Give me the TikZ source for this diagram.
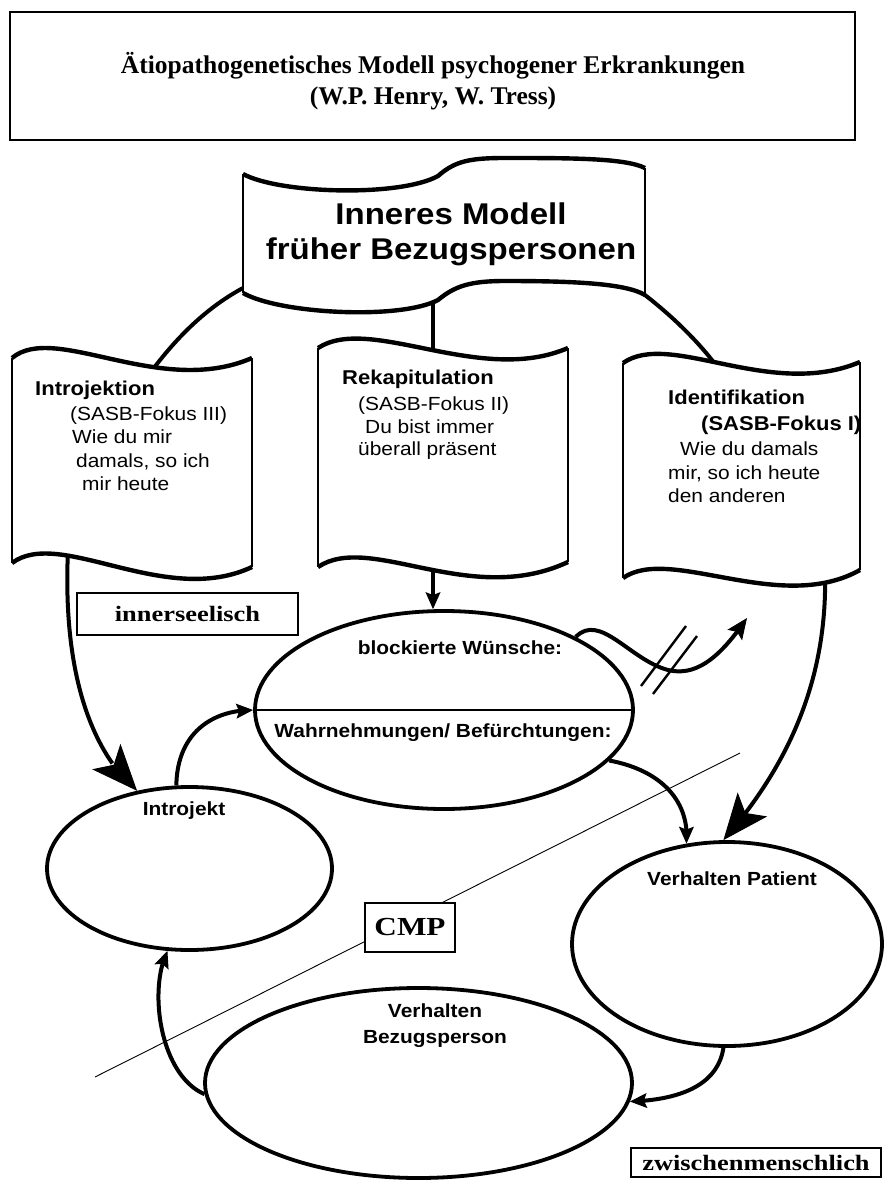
\documentclass[tikz,border=0pt]{standalone}
\usepackage{fontspec}
\newfontfamily\rmt{Liberation Serif}
\newfontfamily\rmx{Liberation Serif}[FakeStretch=1.2]
\newfontfamily\sfx{Liberation Sans}[FakeStretch=1.1]
\usetikzlibrary{shapes.geometric,arrows.meta,bending}

\begin{document}
\begin{tikzpicture}[x=1pt,y=-1pt,
  heavy/.style={line width=4pt},
  edge/.style={line width=4.4pt},
  side/.style={line width=2pt},
  oval/.style={ellipse, draw, line width=3.8pt, fill=white, inner sep=0pt},
  frame/.style={draw, line width=1.4pt, fill=white, inner sep=0pt},
  bigtip/.style={-{Stealth[length=46pt,width=38pt,inset=11pt,line width=1pt]}},
  smalltip/.style={-{Stealth[length=17pt,width=15pt,inset=3pt,line width=1pt]}},
  hd/.style={anchor=base west, inner sep=0pt, font=\sfx\bfseries\fontsize{20}{24}\selectfont},
  bd/.style={anchor=base west, inner sep=0pt, font=\sfx\fontsize{19}{23}\selectfont},
  lab/.style={anchor=base, inner sep=0pt, font=\sfx\bfseries\fontsize{19}{23}\selectfont},
  serifbold/.style={font=\rmx\bfseries\fontsize{22}{26}\selectfont},
  headline/.style={anchor=base, inner sep=0pt, font=\rmt\bfseries\fontsize{25.5}{31}\selectfont},
]
\useasboundingbox (0,0) rectangle (884,1180);
\fill[white] (0,0) rectangle (884,1180);

% heading
\node[frame, minimum width=845pt, minimum height=128pt] (titlebox) at (432.5,76) {};
\node[headline] (title1) at (433,74) {Ätiopathogenetisches Modell psychogener Erkrankungen};
\node[headline] (title2) at (433,105) {(W.P. Henry, W. Tress)};

% thin dividing line between the two levels
\coordinate (cut-a) at (95,1077);
\coordinate (cut-b) at (740,753);
\draw[line width=0.9pt] (cut-a) -- (cut-b);

% ovals
\node[oval, minimum width=378pt, minimum height=198pt] (mid) at (444,710) {};
\draw[line width=2pt] (mid.west) -- (mid.east);
\node[oval, minimum width=285pt, minimum height=163pt] (introjekt) at (189.5,868.5) {};
\node[oval, minimum width=310pt, minimum height=204pt] (patient) at (727,944) {};
\node[oval, minimum width=427pt, minimum height=190pt] (bezug) at (418.5,1083) {};

% labelled frames
\node[frame, serifbold, minimum width=221pt, minimum height=42pt] (inner) at (187.5,614) {innerseelisch};
\node[frame, font=\rmx\bfseries\fontsize{26}{26}\selectfont, minimum width=90pt, minimum height=49pt] (cmp) at (410,927.5) {CMP};
\node[frame, serifbold, minimum width=250pt, minimum height=29pt] (zw) at (756,1162.5) {zwischenmenschlich};

% attachment points on the wave shapes
\coordinate (ij-top) at (145,380);
\coordinate (ij-bot) at (68,550);
\coordinate (rk-top) at (433,362);
\coordinate (rk-bot) at (433,565);
\coordinate (id-top) at (725,378);
\coordinate (id-bot) at (825,572);
\coordinate (im-left) at (255,282);
\coordinate (im-right) at (630,284);
\coordinate (im-bot) at (433,290);
\coordinate (blk-end) at (747,618);

% connectors
\draw[heavy] (ij-top) .. controls (170,345) and (205,305) .. (im-left);
\draw[heavy] (im-right) .. controls (660,305) and (700,340) .. (id-top);
\draw[heavy] (im-bot) -- (rk-top);
\draw[heavy, smalltip] (rk-bot) -- (rk-bot |- mid.north);
\draw[heavy, bigtip] (ij-bot) .. controls (62,680) and (95,755) .. (introjekt.124);
\draw[heavy, bigtip] (id-bot) .. controls (828,690) and (780,775) .. (patient.92);
\draw[heavy, smalltip] (introjekt.99) .. controls (177,735) and (210,710) .. (mid.west);
\draw[heavy, smalltip] (mid.-17) .. controls (660,770) and (690,800) .. (patient.112);
\draw[heavy, -{Stealth[length=21pt,width=18pt,inset=4pt,line width=1pt]}]
  (mid.29) .. controls (600,612) and (630,660) .. (668,670)
  .. controls (700,678) and (725,650) .. (blk-end);
\draw[line width=2.4pt] (641,686) -- (686,626) (653,694) -- (697,636);
\draw[heavy, smalltip] (patient.268) .. controls (718,1085) and (680,1100) .. (bezug.-5);
\draw[heavy, smalltip] (bezug.183) .. controls (160,1075) and (148,990) .. (introjekt.255);

% inner model banner
\fill[white] (243,174) .. controls (280,194) and (400,197) .. (438,176)
  .. controls (455,161) and (470,158) .. (505,158)
  .. controls (570,158) and (625,158) .. (645,168)
  -- (645,295) .. controls (625,283) and (570,281) .. (505,281)
  .. controls (470,281) and (455,286) .. (438,300)
  .. controls (400,320) and (280,314) .. (243,293) -- cycle;
\draw[edge] (243,174) .. controls (280,194) and (400,197) .. (438,176)
  .. controls (455,161) and (470,158) .. (505,158)
  .. controls (570,158) and (625,158) .. (645,168);
\draw[edge] (243,293) .. controls (280,314) and (400,320) .. (438,300)
  .. controls (455,286) and (470,281) .. (505,281)
  .. controls (570,281) and (625,283) .. (645,295);
\draw[side] (243,174) -- (243,293) (645,168) -- (645,295);
\node[anchor=base, inner sep=0pt, font=\sfx\bfseries\fontsize{30}{35}\selectfont] (im1) at (451,224) {Inneres Modell};
\node[anchor=base, inner sep=0pt, font=\sfx\bfseries\fontsize{30}{35}\selectfont] (im2) at (451,259) {früher Bezugspersonen};

% Introjektion tape
\fill[white] (12,358) .. controls (55,322) and (160,398) .. (252,358) -- (252,567)
  .. controls (165,608) and (60,527) .. (12,563) -- cycle;
\draw[edge] (12,358) .. controls (55,322) and (160,398) .. (252,358);
\draw[edge] (12,563) .. controls (60,527) and (165,608) .. (252,567);
\draw[side] (12,358) -- (12,563) (252,358) -- (252,567);
\node[hd] (ij1) at (35,395) {Introjektion};
\node[bd] (ij2) at (70,420) {(SASB-Fokus III)};
\node[bd] (ij3) at (72,443) {Wie du mir};
\node[bd] (ij4) at (76,467) {damals, so ich};
\node[bd] (ij5) at (82,490) {mir heute};

% Rekapitulation tape
\fill[white] (318,348) .. controls (370,314) and (480,386) .. (568,348) -- (568,562)
  .. controls (470,608) and (370,532) .. (318,567) -- cycle;
\draw[edge] (318,348) .. controls (370,314) and (480,386) .. (568,348);
\draw[edge] (318,567) .. controls (370,532) and (470,608) .. (568,562);
\draw[side] (318,348) -- (318,567) (568,348) -- (568,562);
\node[hd] (rk1) at (342,384) {Rekapitulation};
\node[bd] (rk2) at (358,410) {(SASB-Fokus II)};
\node[bd] (rk3) at (365,433) {Du bist immer};
\node[bd] (rk4) at (358,455) {überall präsent};

% Identifikation tape
\fill[white] (623,363) .. controls (670,330) and (770,400) .. (860,362) -- (860,570)
  .. controls (780,615) and (670,545) .. (623,578) -- cycle;
\draw[edge] (623,363) .. controls (670,330) and (770,400) .. (860,362);
\draw[edge] (623,578) .. controls (670,545) and (780,615) .. (860,570);
\draw[side] (623,363) -- (623,578) (860,362) -- (860,570);
\node[hd] (id1) at (668,404) {Identifikation};
\node[hd] (id2) at (701,430) {(SASB-Fokus I)};
\node[bd] (id3) at (680,455) {Wie du damals};
\node[bd] (id4) at (668,479) {mir, so ich heute};
\node[bd] (id5) at (668,502) {den anderen};

% oval labels
\node[lab] (t-block) at (460,654) {blockierte Wünsche:};
\node[lab] (t-wahr) at (443,737) {Wahrnehmungen/ Befürchtungen:};
\node[lab] (t-introjekt) at (184,815) {Introjekt};
\node[lab] (t-patient) at (732,885) {Verhalten Patient};
\node[lab] (t-verh) at (435,1017) {Verhalten};
\node[lab] (t-bezug) at (435,1043) {Bezugsperson};
\end{tikzpicture}
\end{document}
